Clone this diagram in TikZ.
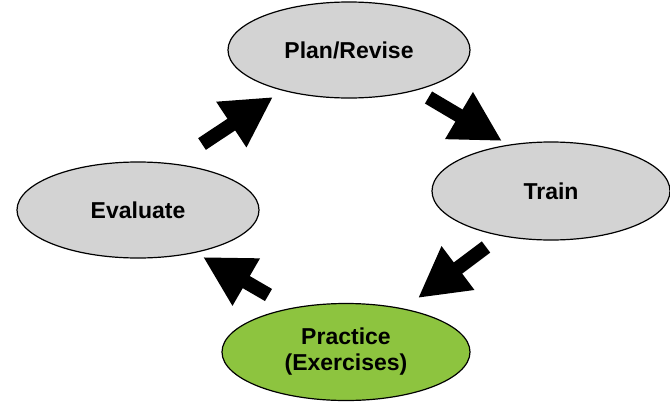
\documentclass[tikz,border=0pt]{standalone}
\usepackage{fontspec}
\setmainfont{Liberation Sans}
\usetikzlibrary{arrows.meta,shapes.geometric}
\definecolor{cyclegray}{HTML}{D3D3D3}
\definecolor{cyclegreen}{HTML}{8DC43F}
\begin{document}
\begin{tikzpicture}[x=1pt,y=-1pt,
  stage/.style={draw=black, line width=1.2pt, ellipse, inner sep=0pt,
    minimum width=242pt, minimum height=96pt, fill=cyclegray,
    font=\fontsize{23}{26}\selectfont\bfseries, align=center},
  flow/.style={line width=14pt, draw=black,
    -{Triangle[length=50pt,width=51pt]}}
]
\useasboundingbox (0,0) rectangle (670,402);
\node[stage] (plan) at (349,50) {Plan/Revise};
\node[stage, minimum width=238pt, minimum height=98pt] (train) at (551,191) {Train};
\node[stage] (eval) at (138,210) {Evaluate};
\node[stage, fill=cyclegreen, minimum width=248pt, minimum height=97pt] (prac) at (346,352) {Practice\\(Exercises)};
% arrow ends
\coordinate (a1s) at (202,144); \coordinate (a1e) at (273,97);
\coordinate (a2s) at (428.5,97.5); \coordinate (a2e) at (502,141);
\coordinate (a3s) at (486,247); \coordinate (a3e) at (418,298);
\coordinate (a4s) at (268.5,295); \coordinate (a4e) at (203,257);
\draw[flow] (a1s) -- (a1e);
\draw[flow] (a2s) -- (a2e);
\draw[flow] (a3s) -- (a3e);
\draw[flow] (a4s) -- (a4e);
\end{tikzpicture}
\end{document}
